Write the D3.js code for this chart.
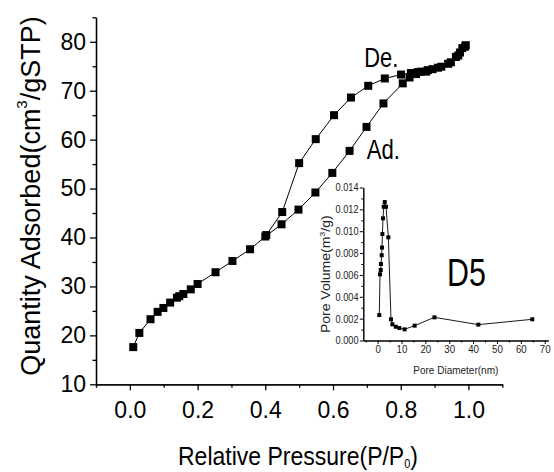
<!DOCTYPE html>
<html>
<head>
<meta charset="utf-8">
<script src="https://cdn.jsdelivr.net/npm/d3@7"></script>
<style>
body { margin: 0; background: #fff; }
svg { font-family: "Liberation Sans", Arial, sans-serif; }
</style>
</head>
<body>
<div class="mainContainer"></div>
<script>
// isotherm - adsorption branch
const adsP = [0.010, 0.028, 0.061, 0.082, 0.099, 0.119, 0.139, 0.146, 0.158, 0.180, 0.200, 0.253, 0.303, 0.355, 0.400,
    0.448, 0.498, 0.548, 0.598, 0.649, 0.699, 0.749, 0.806, 0.826, 0.845, 0.860, 0.875, 0.894, 0.920, 0.948, 0.963, 0.975, 0.982, 0.992];
const adsQ = [17.6, 20.5, 23.3, 24.8, 25.6, 26.7, 27.7, 28.0, 28.45, 29.4, 30.5, 32.9, 35.2, 37.6, 40.2,
    42.7, 45.7, 49.2, 53.2, 57.7, 62.6, 67.4, 71.5, 72.7, 73.4, 73.9, 73.9, 74.4, 74.9, 75.8, 76.9, 77.8, 78.7, 79.3];
// desorption branch
const desP = [0.990, 0.970, 0.940, 0.910, 0.880, 0.850, 0.830, 0.801, 0.753, 0.704, 0.653, 0.603, 0.549, 0.500, 0.450, 0.403];
const desQ = [79.0, 77.2, 75.5, 74.7, 74.2, 73.8, 73.6, 73.3, 72.5, 71.0, 68.6, 65.0, 60.1, 55.2, 45.2, 40.5];
// pore size distribution (inset)
const poreD = [0.7, 1.0, 1.3, 1.4, 1.7, 1.84, 2.0, 2.26, 2.55, 2.97, 3.5, 4.5, 5.6, 6.2, 7.6, 9.1, 11.3, 15.5, 23.8, 42.2, 64.8];
const poreV = [0.00233, 0.00606, 0.00645, 0.0070, 0.0078, 0.0085, 0.00974, 0.01118, 0.01224, 0.01267, 0.01224, 0.00944,
    0.00194, 0.00148, 0.00126, 0.00114, 0.00102, 0.00136, 0.00212, 0.00145, 0.00194];

const xTicks = [0, 0.2, 0.4, 0.6, 0.8, 1.0];
const xMinor = [-0.1, 0.1, 0.3, 0.5, 0.7, 0.9, 1.1];
const yTicks = [10, 20, 30, 40, 50, 60, 70, 80];
const yMinor = [15, 25, 35, 45, 55, 65, 75, 85];
const insetXTicks = [0, 10, 20, 30, 40, 50, 60, 70];
const insetXMinor = [-5, 5, 15, 25, 35, 45, 55, 65];
const insetYTicks = [0, 0.002, 0.004, 0.006, 0.008, 0.010, 0.012, 0.014];
const insetYMinor = [0.001, 0.003, 0.005, 0.007, 0.009, 0.011, 0.013];

const svg = d3.select('.mainContainer')
    .append('svg')
    .attr('width', 554)
    .attr('height', 472);

const x = d3.scaleLinear().domain([-0.1, 1.1]).range([96, 502.3]);
const y = d3.scaleLinear().domain([10, 85]).range([384.3, 17.3]);

const ix = d3.scaleLinear().domain([-6, 71.5]).range([363.3, 548.3]);
const iy = d3.scaleLinear().domain([0, 0.014]).range([340.5, 187.5]);

const styleAxis = (g, w, size) => {
    g.attr('font-family', null).attr('font-size', size);
    g.select('.domain').attr('stroke-width', w);
    g.selectAll('.tick line').attr('stroke-width', w);
};

// main axes
svg.append('g').attr('transform', 'translate(0,384.3)')
    .call(d3.axisBottom(x).tickValues(xMinor).tickSize(3.5).tickSizeOuter(0).tickFormat(''))
    .call(g => styleAxis(g, 1.3, 23));
svg.append('g').attr('transform', 'translate(0,384.3)')
    .call(d3.axisBottom(x).tickValues(xTicks).tickSize(6).tickSizeOuter(0).tickPadding(11).tickFormat(d3.format('.1f')))
    .call(g => styleAxis(g, 1.3, 23));

svg.append('g').attr('transform', 'translate(96,0)')
    .call(d3.axisLeft(y).tickValues(yMinor).tickSize(3.5).tickSizeOuter(0).tickFormat(''))
    .call(g => styleAxis(g, 1.3, 23));
svg.append('g').attr('transform', 'translate(96,0)')
    .call(d3.axisLeft(y).tickValues(yTicks).tickSize(6).tickSizeOuter(0).tickPadding(4))
    .call(g => styleAxis(g, 1.3, 23));

// isotherm lines + markers
const line = d3.line().x(d => x(d[0])).y(d => y(d[1]));
const ads = d3.zip(adsP, adsQ);
const des = d3.zip(desP, desQ);

[ads, des].forEach(data => {
    svg.append('path')
        .datum(data)
        .attr('fill', 'none')
        .attr('stroke', '#000')
        .attr('stroke-width', 1)
        .attr('d', line);
    svg.append('g').selectAll('rect')
        .data(data)
        .enter()
        .append('rect')
        .attr('x', d => x(d[0]) - 4)
        .attr('y', d => y(d[1]) - 4)
        .attr('width', 8)
        .attr('height', 8)
        .attr('fill', '#000');
});

// axis titles
const xTitle = svg.append('text')
    .attr('transform', 'translate(178,464.5) scale(0.92,1)')
    .attr('font-size', 25);
xTitle.append('tspan').text('Relative Pressure(P/P');
xTitle.append('tspan').attr('font-size', 12).attr('dy', 3.5).text('0');
xTitle.append('tspan').attr('dy', -3.5).text(')');

const yTitle = svg.append('text')
    .attr('transform', 'translate(40,196) rotate(-90)')
    .attr('text-anchor', 'middle')
    .attr('font-size', 27);
yTitle.append('tspan').text('Quantity Adsorbed(cm');
yTitle.append('tspan').attr('font-size', 15).attr('dy', -13).text('3');
yTitle.append('tspan').attr('dy', 13).text('/gSTP)');

// branch labels
svg.append('text').attr('transform', 'translate(364.3,66.7) scale(0.78,1)')
    .attr('font-size', 28).text('De.');
svg.append('text').attr('transform', 'translate(366.7,159.3) scale(0.79,1)')
    .attr('font-size', 28).text('Ad.');
svg.append('text').attr('transform', 'translate(447,286) scale(0.78,1)')
    .attr('font-size', 39).text('D5');

// inset
const inset = svg.append('g');

inset.append('g').attr('transform', 'translate(0,340.5)')
    .call(d3.axisBottom(ix).tickValues(insetXMinor).tickSize(2).tickSizeOuter(0).tickFormat(''))
    .call(g => styleAxis(g, 1, 11));
inset.append('g').attr('transform', 'translate(0,340.5)')
    .call(d3.axisBottom(ix).tickValues(insetXTicks).tickSize(3.5).tickSizeOuter(0).tickPadding(1.5))
    .call(g => styleAxis(g, 1, 11))
    .call(g => g.selectAll('text').attr('transform', 'scale(0.88,1)').attr('fill', '#222'));

inset.append('g').attr('transform', 'translate(363.3,0)')
    .call(d3.axisLeft(iy).tickValues(insetYMinor).tickSize(2).tickSizeOuter(0).tickFormat(''))
    .call(g => styleAxis(g, 1, 11));
inset.append('g').attr('transform', 'translate(363.3,0)')
    .call(d3.axisLeft(iy).tickValues(insetYTicks).tickSize(3.5).tickSizeOuter(0).tickPadding(2).tickFormat(d3.format('.3f')))
    .call(g => styleAxis(g, 1, 10.7))
    .call(g => g.selectAll('text').attr('transform', 'scale(0.86,1)').attr('fill', '#222'));

const iline = d3.line().x(d => ix(d[0])).y(d => iy(d[1]));
const pore = d3.zip(poreD, poreV);
inset.append('path')
    .datum(pore)
    .attr('fill', 'none')
    .attr('stroke', '#000')
    .attr('stroke-width', 0.9)
    .attr('d', iline);
inset.append('g').selectAll('rect')
    .data(pore)
    .enter()
    .append('rect')
    .attr('x', d => ix(d[0]) - 2)
    .attr('y', d => iy(d[1]) - 2)
    .attr('width', 4)
    .attr('height', 4)
    .attr('fill', '#000');

inset.append('text')
    .attr('transform', 'translate(455.8,373.5) scale(0.91,1)')
    .attr('text-anchor', 'middle')
    .attr('font-size', 11)
    .attr('fill', '#222')
    .text('Pore Diameter(nm)');

const pvTitle = inset.append('text')
    .attr('transform', 'translate(330,274.2) rotate(-90) scale(1.12,1)')
    .attr('text-anchor', 'middle')
    .attr('font-size', 12.5)
    .attr('fill', '#222');
pvTitle.append('tspan').text('Pore Volume(m');
pvTitle.append('tspan').attr('font-size', 8).attr('dy', -5).text('3');
pvTitle.append('tspan').attr('dy', 5).text('/g)');
</script>
</body>
</html>
